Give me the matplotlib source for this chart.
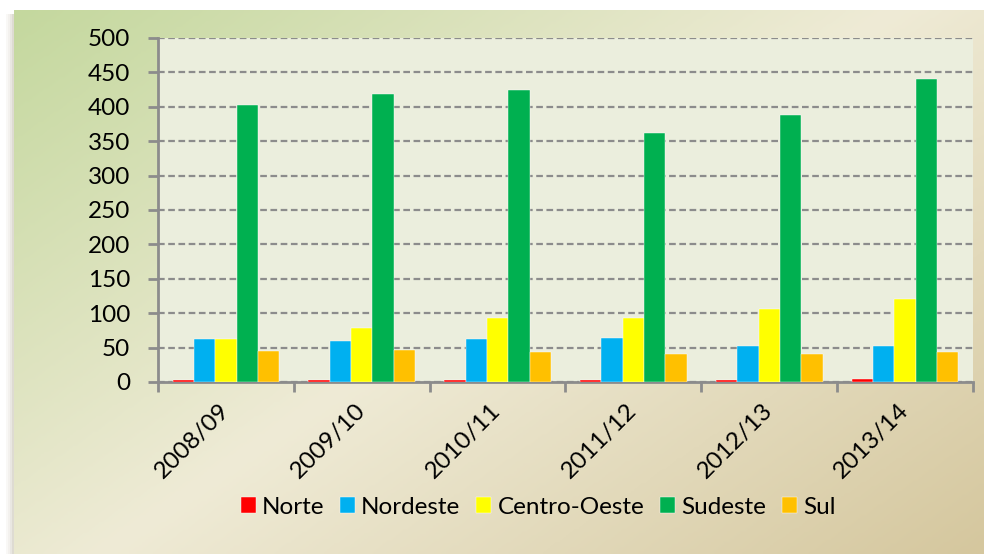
import matplotlib
import numpy as np

matplotlib.use("Agg")
import matplotlib.pyplot as plt  # noqa: E402
from matplotlib.colors import LinearSegmentedColormap  # noqa: E402
from matplotlib.patches import Rectangle  # noqa: E402

plt.rcParams["font.family"] = ["Lato", "DejaVu Sans"]

seasons = ["2008/09", "2009/10", "2010/11", "2011/12", "2012/13", "2013/14"]
norte = [2.5, 2.5, 2.5, 3, 3, 4]
nordeste = [63, 59, 62, 64, 53, 53]
centro_oeste = [63, 78, 93, 93, 106, 121]
sudeste = [402, 419, 424, 362, 388, 440]
sul = [45, 46, 44, 41, 40, 43]

series = [
    ("Norte", norte, "#ff0000"),
    ("Nordeste", nordeste, "#00b0f0"),
    ("Centro-Oeste", centro_oeste, "#ffff00"),
    ("Sudeste", sudeste, "#00b050"),
    ("Sul", sul, "#ffc000"),
]

W, H = 984, 554
FS = 17.5
fig = plt.figure(figsize=(W / 100, H / 100), dpi=100)
fig.patch.set_facecolor("white")

# background panel: diagonal gradient green -> cream -> tan
bg = fig.add_axes([0, 0, 1, 1])
bg.set_xlim(0, W)
bg.set_ylim(H, 0)
bg.axis("off")
yy, xx = np.mgrid[0:1:200j, 0:1:300j]
t = (xx * 0.55 + yy * 0.45)
cmap = LinearSegmentedColormap.from_list(
    "bg", [(0, "#c4d89e"), (0.5, "#efebd6"), (1, "#d5c79e")]
)
for i, a in enumerate([0.05, 0.1, 0.18, 0.28]):
    bg.add_patch(Rectangle((6 + 2 * i, 14), 2, H, color="#8a7f60", alpha=a, lw=0))
bg.imshow(t, cmap=cmap, extent=(14, W, H, 10), aspect="auto", interpolation="bilinear")

ax = fig.add_axes([158 / W, (H - 382) / H, (973 - 158) / W, (382 - 38) / H])
ax.set_facecolor("#ebeedd")

x = np.arange(len(seasons))
w = 0.157
for i, (name, vals, col) in enumerate(series):
    ax.bar(x + (i - 2) * w, vals, width=w, color=col, label=name,
           edgecolor="white", linewidth=0.3, zorder=3)

ax.set_xlim(-0.5, len(seasons) - 0.5)
ax.set_ylim(0, 500)
ax.set_yticks(range(0, 501, 50))
ax.yaxis.grid(True, ls=(0, (3, 1.6)), color="#8c8c8c", lw=1.6, zorder=0)

ax.set_xticks(np.arange(len(seasons) + 1) - 0.5)
ax.set_xticklabels([])
ax.set_xticks(x, minor=True)
ax.set_xticklabels(seasons, minor=True, rotation=45, ha="right", va="center",
                   rotation_mode="anchor", fontsize=FS)
ax.tick_params(axis="x", which="minor", length=0, pad=18)
ax.tick_params(axis="x", which="major", length=7, width=2, color="#8c8c8c")
ax.tick_params(axis="y", length=7, width=2, color="#8c8c8c", labelsize=FS, pad=13)

for s in ["top", "right"]:
    ax.spines[s].set_visible(False)
for s in ["left", "bottom"]:
    ax.spines[s].set_color("#8c8c8c")
    ax.spines[s].set_linewidth(2)

fig.legend(loc="center", bbox_to_anchor=(538 / W, 1 - 507 / H), ncol=5,
           frameon=False, fontsize=FS, handlelength=0.62, handleheight=0.62,
           handletextpad=0.25, columnspacing=0.65)

fig.savefig("out.png", dpi=100)
